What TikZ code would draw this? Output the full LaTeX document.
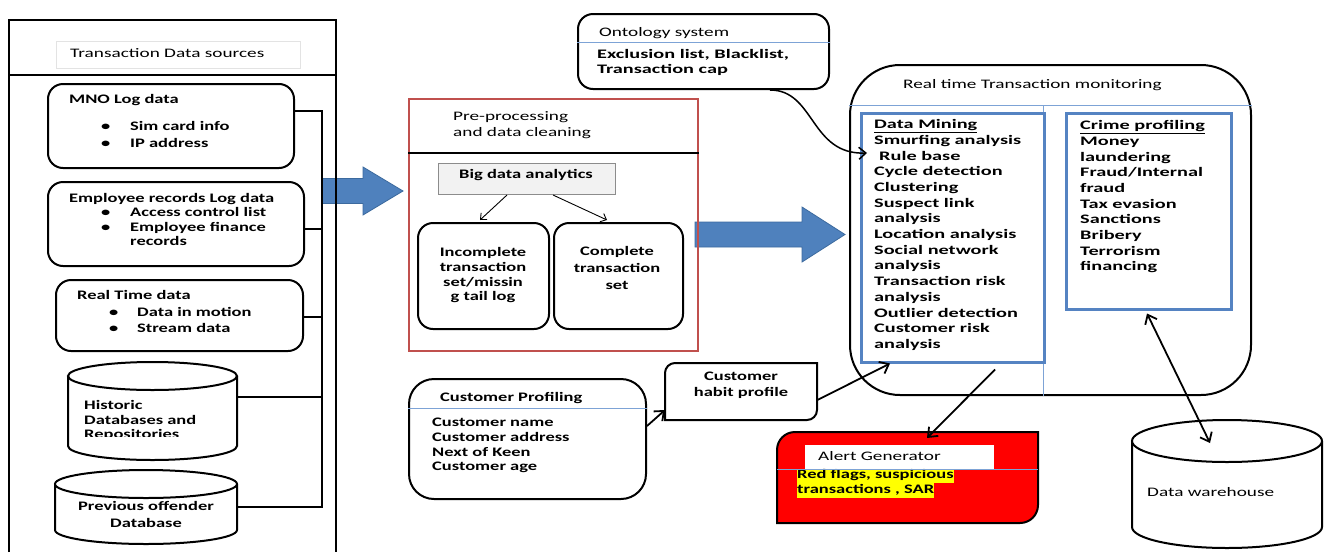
\documentclass[tikz,border=0pt]{standalone}
\usepackage{fontspec}
\setmainfont{Carlito}[FakeStretch=1.42]
\newfontfamily\regfont{Carlito}[FakeStretch=1.48]
\newfontfamily\widefont{Carlito}[FakeStretch=1.56]
\usetikzlibrary{arrows.meta}
\definecolor{arrowblue}{HTML}{4F81BD}
\definecolor{arrowedge}{HTML}{3C6A9E}
\definecolor{boxblue}{HTML}{5583C2}
\definecolor{lineblue}{HTML}{7DA3D6}
\definecolor{redframe}{HTML}{C0504D}
\definecolor{alertred}{HTML}{FF0000}
\definecolor{hlyellow}{HTML}{FFFF00}
\definecolor{paneframe}{HTML}{E3E3E3}
\definecolor{bdfill}{HTML}{F2F2F2}
\definecolor{bdedge}{HTML}{8C8C8C}
\newcommand\fsz[1]{\fontsize{13}{#1}\selectfont}
\newcommand\hlt[1]{{\setlength{\fboxsep}{0pt}\colorbox{hlyellow}{\strut #1}}}
\newcommand\bul[1]{\makebox[#1][l]{\textbullet}}
\begin{document}
\begin{tikzpicture}[x=1pt, y=-1pt,
  box/.style={draw=black, line width=2pt, rounded corners=15pt, inner sep=0pt, anchor=north west},
  plain/.style={inner sep=0pt, anchor=north west},
  lbl/.style={inner sep=0pt, text=black, font=\fsz{15.7}\bfseries},
  reg/.style={inner sep=0pt, text=black, font=\regfont\fsz{15.7}},
  wide/.style={inner sep=0pt, text=black, anchor=north west, align=left, font=\widefont\fsz{#1}\bfseries},
  wire/.style={line width=1.5pt},
  sep/.style={lineblue, line width=1pt},
  thinarrow/.style={line width=0.9pt, -{Straight Barb[length=5pt,width=9pt]}},
  heavyarrow/.style={line width=1.8pt, -{Straight Barb[length=8pt,width=13pt]}},
  blockarrow/.style={fill=arrowblue, draw=arrowedge, line width=0.8pt}]
\useasboundingbox (0,0) rectangle (1332,552);

% block arrows, drawn first so that frames lie on top
\filldraw[blockarrow] (322,178.5) -- (363,178.5) -- (363,167) -- (403,191) -- (363,215) -- (363,203.5) -- (322,203.5) -- cycle;
\filldraw[blockarrow] (695,222) -- (802,222) -- (802,207) -- (845,234.5) -- (802,262) -- (802,247) -- (695,247) -- cycle;

% ---- transaction data sources panel ----
\draw[line width=2pt] (9,552) -- (9,20) -- (336,20) -- (336,552);
\draw[line width=2pt] (9,75) -- (336,75);
\node[plain, draw=paneframe, line width=0.8pt, minimum width=244pt, minimum height=27pt] (srchead) at (56,41) {};
\node[reg, anchor=base west] (srctitle) at (70,57.5) {Transaction Data sources};

\node[box, minimum width=246pt, minimum height=84pt] (mno) at (47,83) {};
\node[lbl, anchor=base west] (mnot) at (69,103.5) {MNO Log data};
\node[lbl, anchor=north west, align=left, font=\fsz{17}\bfseries] (mnol) at (101,118.6)
  {\strut\bul{29pt}Sim card info\\\bul{29pt}IP address};

\node[box, minimum width=256pt, minimum height=84pt] (emp) at (47,181) {};
\node[lbl, anchor=base west] (empt) at (69,202.5) {Employee records Log data};
\node[lbl, anchor=north west, align=left, font=\fsz{14.5}\bfseries] (empl) at (101,206.4)
  {\strut\bul{29pt}Access control list\\\bul{29pt}Employee finance\\\hspace*{29pt}records};

\node[box, minimum width=247pt, minimum height=71pt] (rtd) at (55,279) {};
\node[lbl, anchor=base west] (rtdt) at (77,299.5) {Real Time data};
\node[lbl, anchor=north west, align=left, font=\fsz{16}\bfseries] (rtdl) at (109,305.3)
  {\strut\bul{28pt}Data in motion\\\bul{28pt}Stream data};

% historic databases cylinder
\node[plain, minimum width=169pt, minimum height=70pt] (hist) at (68,376) {};
\filldraw[fill=white, line width=2pt] (68,376) -- (68,446) arc[start angle=180, end angle=0, x radius=84.5, y radius=14] -- (237,376);
\filldraw[fill=white, line width=2pt] (152.5,376) ellipse [x radius=84.5, y radius=14];
\begin{scope}
  \clip (60,392) rectangle (240,436.5);
  \node[lbl, anchor=north west, align=left, font=\fsz{14.5}\bfseries] (histl) at (84,399.4)
    {\strut Historic\\Databases and\\Repositories};
\end{scope}

% previous offender cylinder
\node[plain, minimum width=182pt, minimum height=46pt] (prev) at (55,484) {};
\filldraw[fill=white, line width=2pt] (55,484) -- (55,530) arc[start angle=180, end angle=0, x radius=91, y radius=14] -- (237,484);
\filldraw[fill=white, line width=2pt] (146,484) ellipse [x radius=91, y radius=14];
\node[lbl, anchor=north, align=center, font=\fsz{17}\bfseries] (prevl) at (146,498.6)
  {\strut Previous offender\\Database};

% collecting bus
\coordinate (bus1) at (322,111);
\coordinate (bus2) at (322,229);
\coordinate (bus3) at (322,317);
\coordinate (bus4) at (322,397);
\coordinate (bus5) at (322,507);
\draw[wire] (mno.east |- bus1) -- (bus1) -- (bus5) -- (prev.east |- bus5);
\draw[wire] (emp.east |- bus2) -- (bus2);
\draw[wire] (rtd.east |- bus3) -- (bus3);
\draw[wire] (hist.east |- bus4) -- (bus4);

% ---- pre-processing ----
\node[plain, draw=redframe, line width=2pt, minimum width=289pt, minimum height=252pt] (prep) at (408,98) {};
\draw[line width=2pt] ([yshift=-55pt]prep.north west) -- ([yshift=-55pt]prep.north east);
\node[reg, anchor=north west, align=left, font=\regfont\fsz{16}] (prept) at (453,109.3)
  {\strut Pre-processing\\and data cleaning};

\node[plain, draw=bdedge, fill=bdfill, line width=1pt, minimum width=177pt, minimum height=31pt] (bigdata) at (438,163) {};
\node[lbl, anchor=base] (bigdatat) at (526,178.5) {Big data analytics};

\node[box, minimum width=131pt, minimum height=106pt] (inc) at (417,222) {};
\node[lbl, anchor=north, align=center, font=\fsz{14.7}\bfseries] (inct) at (483,246.2)
  {\strut Incomplete\\transaction\\set/missin\\g tail log};
\node[box, minimum width=129pt, minimum height=106pt] (comp) at (553,222) {};
\node[lbl, anchor=north, align=center, font=\fsz{17}\bfseries] (compt) at (617,243.6)
  {\strut Complete\\transaction\\set};

\draw[thinarrow] ([xshift=69pt]bigdata.south west) -- ([xshift=63pt,yshift=2pt]inc.north west);
\draw[thinarrow] ([xshift=115pt]bigdata.south west) -- ([xshift=54pt,yshift=2pt]comp.north west);

% ---- ontology ----
\node[box, minimum width=251pt, minimum height=75pt] (onto) at (577,13) {};
\draw[sep] ([yshift=-29pt]onto.north west) -- ([yshift=-29pt]onto.north east);
\node[reg, anchor=base west] (ontot) at (599,36) {Ontology system};
\node[wide=15] (ontol) at (597,48)
  {\strut Exclusion list, Blacklist,\\Transaction cap};

% ---- real time transaction monitoring ----
\node[box, rounded corners=50pt, minimum width=401pt, minimum height=330pt] (rtm) at (849,64) {};
\draw[sep] ([yshift=-41pt]rtm.north west) -- ([yshift=-41pt]rtm.north east);
\draw[sep] ([xshift=194pt,yshift=-41pt]rtm.north west) -- ([xshift=194pt]rtm.south west);
\node[reg, anchor=base west] (rtmt) at (903,88.5) {Real time Transaction monitoring};

\node[plain, draw=boxblue, line width=2.5pt, minimum width=183pt, minimum height=249pt] (dm) at (860,112) {};
\node[wide=15.7] (dmt) at (874,117.5)
  {\strut\underline{Data Mining}\\Smurfing analysis\\\hspace*{5pt}Rule base\\Cycle detection\\Clustering\\Suspect link\\analysis\\Location analysis\\Social network\\analysis\\Transaction risk\\analysis\\Outlier detection\\Customer risk\\analysis};

\node[plain, draw=boxblue, line width=2.5pt, minimum width=165pt, minimum height=196pt] (crime) at (1065,112) {};
\node[wide=15.67] (crimet) at (1080,118.5)
  {\strut\underline{Crime profiling}\\Money\\laundering\\Fraud/Internal\\fraud\\Tax evasion\\Sanctions\\Bribery\\Terrorism\\financing};

\draw[wire, -{Straight Barb[length=7pt,width=12pt]}] ([xshift=193pt]onto.south west)
  .. controls (815,90) and (810,155) .. ([xshift=7pt,yshift=-41pt]dm.north west);

% ---- customer profiling ----
\node[box, rounded corners=25pt, minimum width=237pt, minimum height=120pt] (cprof) at (408,378) {};
\draw[sep] ([yshift=-30pt]cprof.north west) -- ([yshift=-30pt]cprof.north east);
\node[lbl, anchor=base west] (cproft) at (440,401.5) {Customer Profiling};
\node[lbl, anchor=north west, align=left, font=\fsz{14.7}\bfseries] (cprofl) at (432,416.2)
  {\strut Customer name\\Customer address\\Next of Keen\\Customer age};

\node[plain, minimum width=152pt, minimum height=57pt] (habit) at (665,363) {};
\draw[line width=2pt] (665,420) -- (665,373) .. controls (665,367.5) and (669.5,363) .. (675,363)
  -- (817,363) -- (817,410) .. controls (817,415.5) and (812.5,420) .. (807,420) -- cycle;
\node[lbl, anchor=north, align=center, font=\fsz{16}\bfseries] (habitt) at (741,369.3)
  {\strut Customer\\habit profile};

% ---- alert generator ----
\node[plain, minimum width=261pt, minimum height=91pt] (alert) at (777,432) {};
\filldraw[fill=alertred, draw=black, line width=2pt] (777,523) -- (777,450) .. controls (777,440) and (785,432) .. (795,432)
  -- (1038,432) -- (1038,505) .. controls (1038,515) and (1030,523) .. (1020,523) -- cycle;
\node[plain, fill=white, minimum width=189pt, minimum height=24pt] (alertlbl) at (805,445) {};
\node[reg, anchor=base west] (alertt) at (818,460.5) {Alert Generator};
\node[lbl, anchor=north west, align=left, font=\fsz{14.5}\bfseries] (alertl) at (797,468.4)
  {\hlt{Red flags, suspicious}\\\hlt{transactions , SAR}};
\draw[sep, line width=0.8pt] ([yshift=-37pt]alert.north west) -- ([yshift=-37pt]alert.north east);

% ---- data warehouse ----
\node[plain, minimum width=190pt, minimum height=86pt] (dw) at (1132,441) {};
\filldraw[fill=white, line width=2pt] (1132,441) -- (1132,527) arc[start angle=180, end angle=0, x radius=95, y radius=21] -- (1322,441);
\filldraw[fill=white, line width=2pt] (1227,441) ellipse [x radius=95, y radius=21];
\node[reg, anchor=base west] (dwt) at (1147,496.5) {Data warehouse};

% ---- connectors ----
\draw[heavyarrow] ([yshift=-48pt]cprof.north east) -- ([yshift=-47pt]habit.north west);
\draw[heavyarrow] ([yshift=-37pt]habit.north east) -- ([xshift=30pt]dm.south west);
\draw[heavyarrow] ([xshift=135pt,yshift=-6pt]dm.south west) -- ([xshift=150pt,yshift=-6pt]alert.north west);
\draw[heavyarrow, {Straight Barb[length=8pt,width=13pt]}-{Straight Barb[length=8pt,width=13pt]}]
  ([xshift=82pt,yshift=-3pt]crime.south west) -- ([xshift=78pt,yshift=-2pt]dw.north west);
\end{tikzpicture}
\end{document}
